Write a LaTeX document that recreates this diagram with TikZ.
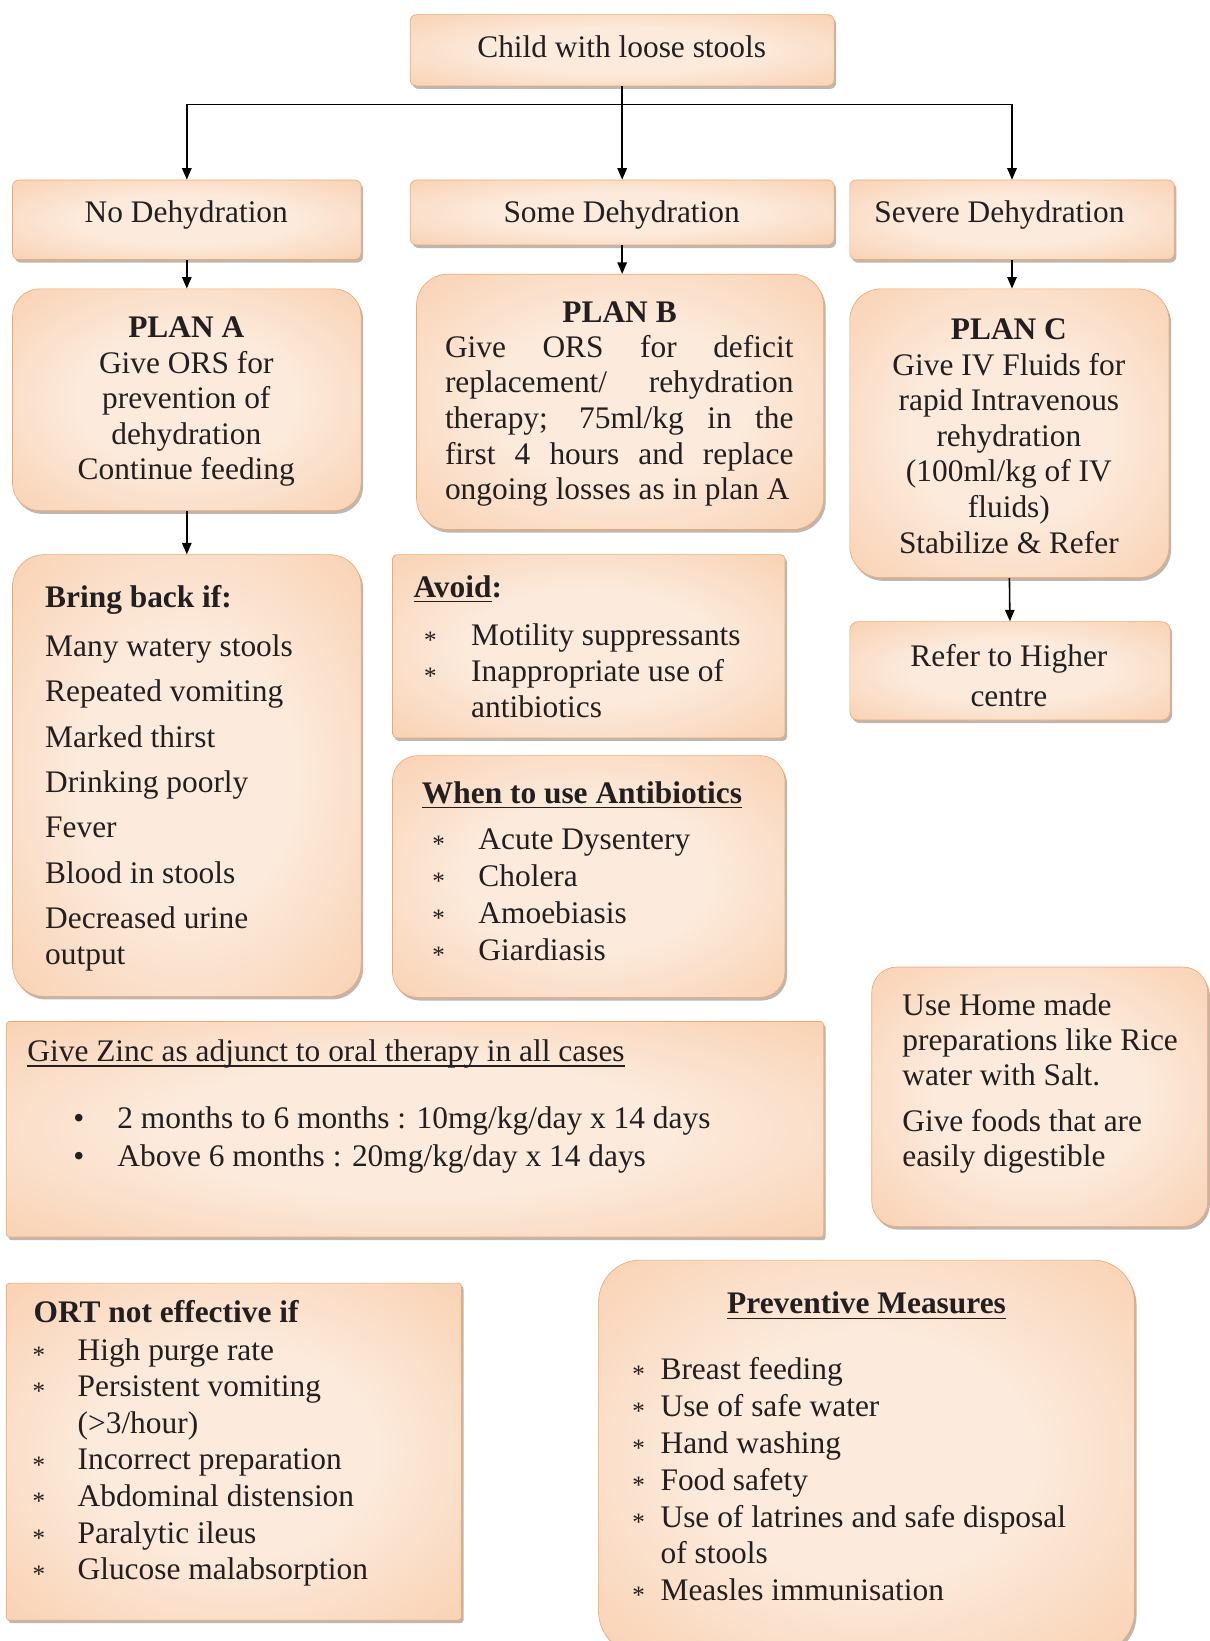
\documentclass[tikz,border=0pt]{standalone}
\usepackage{fontspec}
\setmainfont{Liberation Serif}
\usetikzlibrary{shadows,arrows.meta}
\definecolor{pkA}{HTML}{FCEBDD}
\definecolor{pkB}{HTML}{F9D1B2}
\definecolor{pkC}{HTML}{F3B07E}
\definecolor{pkE}{HTML}{EEA872}
\definecolor{ink}{HTML}{231F20}
\definecolor{shd}{HTML}{8C7B70}
\pgfdeclareradialshading{peachglow}{\pgfpoint{0bp}{0bp}}{color(0bp)=(pkA); color(15bp)=(pkA); color(36bp)=(pkB); color(54bp)=(pkC); color(72bp)=(pkC)}
\newcommand\myul[1]{\setbox0=\hbox{#1}\rlap{\rule[-5pt]{\wd0}{1.6pt}}\box0}
\newcommand\sstar{\raisebox{-3pt}{\fontsize{24}{24}\selectfont *}}
\tikzset{
  box/.style={draw=pkE, line width=0.6pt, shading=peachglow, inner sep=0pt,
    drop shadow={shadow xshift=2pt, shadow yshift=-3pt, fill=shd, opacity=0.55}},
  arr/.style={draw=black, line width=1.5pt, -{Triangle[length=11pt,width=9pt]}},
  txt/.style={inner sep=0pt, text=ink, yshift=-2.5pt, font=\fontsize{30}{34}\selectfont},
}
\begin{document}
\begin{tikzpicture}[x=1pt,y=-1pt]
\fill[white] (0,0) rectangle (1156,1568);
\useasboundingbox (0,0) rectangle (1156,1568);

% boxes
\node[box, rounded corners=6pt, minimum width=405pt, minimum height=68pt] (child) at (594.5,48) {};
\node[box, rounded corners=6pt, minimum width=333pt, minimum height=76pt] (nohyd) at (178.5,210) {};
\node[box, rounded corners=6pt, minimum width=405pt, minimum height=62pt] (somehyd) at (594.5,203) {};
\node[box, rounded corners=6pt, minimum width=310pt, minimum height=76pt] (severe) at (967,210) {};
\node[box, rounded corners=26pt, minimum width=333pt, minimum height=212pt] (planA) at (178.5,382) {};
\node[box, rounded corners=30pt, minimum width=389pt, minimum height=244pt] (planB) at (592.5,384) {};
\node[box, rounded corners=30pt, minimum width=305pt, minimum height=276pt] (planC) at (964.5,414) {};
\node[box, rounded corners=30pt, minimum width=333pt, minimum height=422pt] (bring) at (178.5,741) {};
\node[box, rounded corners=4pt, minimum width=375pt, minimum height=175pt] (avoid) at (562.5,617.5) {};
\node[box, rounded corners=24pt, minimum width=375pt, minimum height=231pt] (when) at (562.5,837.5) {};
\node[box, rounded corners=8pt, minimum width=306pt, minimum height=94pt] (refer) at (965,641) {};
\node[box, rounded corners=3pt, minimum width=781pt, minimum height=206pt] (zinc) at (396.5,1079) {};
\node[box, rounded corners=24pt, minimum width=321pt, minimum height=248pt] (home) at (993.5,1048) {};
\node[box, rounded corners=3pt, minimum width=435pt, minimum height=322pt] (ort) at (223.5,1387) {};
\node[box, rounded corners=40pt, minimum width=512pt, minimum height=376pt] (prev) at (828,1392) {};

% connectors
\coordinate (split) at (594.5,100);
\draw[line width=1.5pt] (child.south) -- (split);
\draw[arr] (split) -| (nohyd.north);
\draw[arr] (split) -| (severe.north);
\draw[arr] (split) -- (somehyd.north);
\draw[arr] (nohyd.south) -- (planA.north);
\draw[arr] (somehyd.south) -- (somehyd.south |- planB.north);
\draw[arr] (severe.south) -- (severe.south |- planC.north);
\draw[arr] (planA.south) -- (bring.north);
\draw[arr] (planC.south) -- (refer.north);

% texts (multi-line nodes: base = baseline of last line)
\node[txt, anchor=base] (t0) at (594,52) {Child with loose stools};
\node[txt, anchor=base] (t1) at (178,210) {No Dehydration};
\node[txt, anchor=base] (t2) at (594,210) {Some Dehydration};
\node[txt, anchor=base] (t3) at (955,210) {Severe Dehydration};

\node[txt, anchor=base, align=center] (ta) at (178,456)
  {\textbf{PLAN A}\\Give ORS for\\prevention of\\dehydration\\Continue feeding};

\node[txt, anchor=base] (tbh) at (592,306) {\textbf{PLAN B}};
\node[txt, anchor=base west, align=left] (tb) at (425,475)
  {\makebox[333pt][s]{Give ORS for deficit}\\
   \makebox[333pt][s]{replacement/ rehydration}\\
   \makebox[333pt][s]{therapy; 75ml/kg in the}\\
   \makebox[333pt][s]{first 4 hours and replace}\\
   ongoing losses as in plan A};

\node[txt, anchor=base, align=center] (tc) at (964,526)
  {\textbf{PLAN C}\\Give IV Fluids for\\rapid Intravenous\\rehydration\\(100ml/kg of IV\\fluids)\\Stabilize \& Refer};

\node[txt, anchor=base, align=center, font=\fontsize{30}{39}\selectfont] (tr) at (964,673)
  {Refer to Higher\\centre};

\node[txt, anchor=base west] (tbt) at (43,578) {\textbf{Bring back if:}};
\node[txt, anchor=base west, align=left, font=\fontsize{30}{43.4}\selectfont] (tbl) at (43,919)
  {Many watery stools\\Repeated vomiting\\Marked thirst\\Drinking poorly\\Fever\\Blood in stools\\Decreased urine\\[-9.4pt]output};

\node[txt, anchor=base west] (tvt) at (395,568) {\myul{\textbf{Avoid}}\textbf{:}};
\node[txt, anchor=base west, align=left, font=\fontsize{30}{34.5}\selectfont] (tvl) at (405,683)
  {\makebox[45pt][l]{\sstar}Motility suppressants\\
   \makebox[45pt][l]{\sstar}Inappropriate use of\\
   \hspace*{45pt}antibiotics};

\node[txt, anchor=base west] (twt) at (403,765) {\myul{\textbf{When to use Antibiotics}}};
\node[txt, anchor=base west, align=left, font=\fontsize{30}{35.3}\selectfont] (twl) at (413,915)
  {\makebox[44pt][l]{\sstar}Acute Dysentery\\
   \makebox[44pt][l]{\sstar}Cholera\\
   \makebox[44pt][l]{\sstar}Amoebiasis\\
   \makebox[44pt][l]{\sstar}Giardiasis};

\node[txt, anchor=base west] (tzt) at (26,1012) {\myul{Give Zinc as adjunct to oral therapy in all cases}};
\node[txt, anchor=base west, align=left, font=\fontsize{30}{36}\selectfont] (tzl) at (70,1112)
  {\makebox[42pt][l]{\textbullet}2 months to 6 months : 10mg/kg/day x 14 days\\
   \makebox[42pt][l]{\textbullet}Above 6 months : 20mg/kg/day x 14 days};

\node[txt, anchor=base west, align=left, font=\fontsize{30}{33.5}\selectfont] (th) at (862,1112.5)
  {Use Home made\\preparations like Rice\\water with Salt.\\[10.5pt]Give foods that are\\easily digestible};

\node[txt, anchor=base west] (tot) at (32,1261) {\textbf{ORT not effective if}};
\node[txt, anchor=base west, align=left, font=\fontsize{30}{35}\selectfont] (tol) at (31,1507)
  {\makebox[43pt][l]{\sstar}High purge rate\\
   \makebox[43pt][l]{\sstar}Persistent vomiting\\
   \hspace*{43pt}(>3/hour)\\
   \makebox[43pt][l]{\sstar}Incorrect preparation\\
   \makebox[43pt][l]{\sstar}Abdominal distension\\
   \makebox[43pt][l]{\sstar}Paralytic ileus\\
   \makebox[43pt][l]{\sstar}Glucose malabsorption};

\node[txt, anchor=base] (tpt) at (828,1253) {\myul{\textbf{Preventive Measures}}};
\node[txt, anchor=base west, align=left, font=\fontsize{30}{35.2}\selectfont] (tpl) at (604,1527)
  {\makebox[27pt][l]{\sstar}Breast feeding\\
   \makebox[27pt][l]{\sstar}Use of safe water\\
   \makebox[27pt][l]{\sstar}Hand washing\\
   \makebox[27pt][l]{\sstar}Food safety\\
   \makebox[27pt][l]{\sstar}Use of latrines and safe disposal\\
   \hspace*{27pt}of stools\\
   \makebox[27pt][l]{\sstar}Measles immunisation};
\end{tikzpicture}
\end{document}
